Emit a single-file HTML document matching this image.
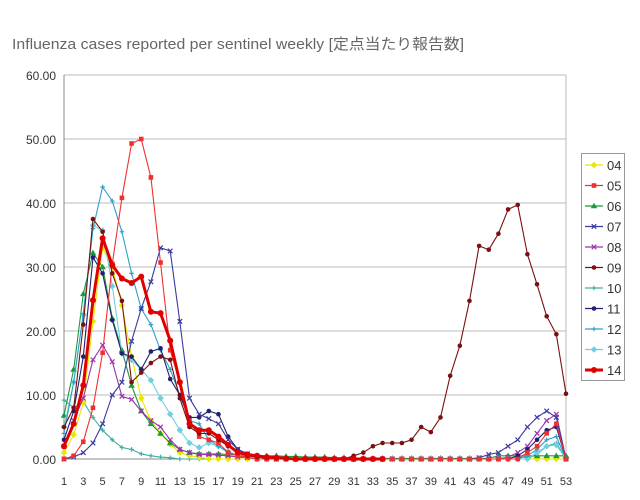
<!DOCTYPE html>
<html><head><meta charset="utf-8"><style>
html,body{margin:0;padding:0;background:#fff;}
svg{display:block;font-family:"Liberation Sans","Noto Sans CJK JP",sans-serif;}
</style></head><body>
<svg id="c" width="640" height="500" xmlns="http://www.w3.org/2000/svg">
<rect width="640" height="500" fill="#fff"/>
<text x="12" y="49" font-size="15" fill="#666" textLength="452" lengthAdjust="spacingAndGlyphs">Influenza cases reported per sentinel weekly [定点当たり報告数]</text>
<g id="grid"></g>
<g id="series"></g>
<g id="legend"></g>
</svg>
<script>
var NS="http://www.w3.org/2000/svg";
function el(t,a,p,txt){var e=document.createElementNS(NS,t);for(var k in a)e.setAttribute(k,a[k]);if(txt!=null)e.textContent=txt;p.appendChild(e);return e;}
var X0=64,X1=566,Y0=459,S=6.4;
function X(w){return X0+(w-1)*(X1-X0)/52;}
function Y(v){return Y0-v*S;}
var g=document.getElementById('grid');
for(var i=0;i<=6;i++){var y=Y(i*10);
 el('line',{x1:X0,x2:X1,y1:y,y2:y,stroke:i==0?'#888':'#bbb','stroke-width':1},g);
 el('text',{x:56,y:y+5,'font-size':12,'text-anchor':'end',fill:'#333'},g,(i*10)+'.00');}
el('line',{x1:X0,x2:X0,y1:Y(60),y2:Y0,stroke:'#888'},g);
el('line',{x1:X1,x2:X1,y1:Y(60),y2:Y0,stroke:'#bbb'},g);
for(var w=1;w<=53;w+=2) el('text',{x:X(w),y:485,'font-size':11,'text-anchor':'middle',fill:'#333'},g,w);
function fill(a){var r=a.slice();while(r.length<53)r.push(0);return r;}
function tail(a,start,vals){for(var i=0;i<vals.length;i++)a[start-1+i]=vals[i];return a;}
var D={
'04':fill([1,3.8,8.8,21.5,33,30,24,16,9.5,6,4,2.3,1,0.5,0.3]),
'05':tail(fill([0,0.5,2.7,8,16.6,30.5,40.8,49.3,50,44,30.7,17,12,6,3.5,3,2.5,1,0.5,0.3]),49,[1,2,4,5.5]),
'06':(function(){var a=fill([6.8,14,25.8,32.2,30,22,17,11.5,7.5,5.5,4,2.5,1.5,1,0.8,0.8,0.8,0.7,0.6,0.5,0.5,0.5,0.5,0.4,0.4,0.3,0.3,0.3,0.2,0.2]);for(var i=30;i<53;i++)a[i]=i>44?0.5:0.1;a[52]=0.5;return a;})(),
'07':tail(fill([0,0.3,1,2.5,5.5,10,12,18.4,23.5,27.7,33,32.5,21.5,9.5,7,6.3,5.5,3,1.5,0.8,0.4,0.2]),44,[0.2,0.7,1,2,3,5,6.5,7.5,6.5]),
'08':tail(fill([2,6,9.5,15.5,17.8,15.2,9.8,9.3,7.5,6,5,3,1.5,1,0.7,0.7,0.6,0.5,0.3,0.2]),47,[0.3,1,2,4,6,7]),
'09':[5,8,21,37.5,35.5,29,24.7,12,13.5,15,16,15.5,9.5,5,4,4,3,2,1,0.5,0.3,0.2,0.1,0.1,0,0,0,0,0,0,0.5,1,2,2.5,2.5,2.5,3,5,4.2,6.5,13,17.7,24.7,33.3,32.7,35.2,39,39.7,32,27.3,22.3,19.5,10.2],
'10':tail(fill([9.2,8,9,6.5,4.5,3,1.8,1.5,0.8,0.5,0.3,0.2]),50,[0.8,2,2.5]),
'11':tail(fill([3,7.5,16,31.5,29,21.7,16.5,16,14,16.8,17.3,12.5,10,6.5,6.5,7.5,7,3.5,1.5,0.8,0.4]),48,[0.5,1.5,3,4.5,5]),
'12':tail(fill([4,12,22.7,36,42.5,40.3,35.5,29,23.5,21,17,14,10,6,5.5,3,2,1,0.5,0.3]),49,[0.5,1.5,3,3.5]),
'13':tail(fill([5,12,22.5,36.5,35.7,27,16.5,15.5,14,12.3,9.5,7,4.5,2.5,1.8,2.5,2,1.2,0.6,0.3]),50,[1,2,2.2]),
'14':fill([2,5.5,11.5,24.8,34.5,30.3,28.2,27.5,28.5,23,22.8,18.5,12,5.5,4.5,4.5,3.5,2.2,1,0.7,0.5,0.3,0.2,0.1,0,0,0,0,0,0,0,0,0,0]).slice(0,34)
};
var C={'04':'#e8e800','05':'#f03030','06':'#1a9a3a','07':'#3a3aa0','08':'#a030b0','09':'#7a1010','10':'#40b0a0','11':'#202070','12':'#30a0c8','13':'#70d0e0','14':'#e00000'};
var M={'04':'d','05':'s','06':'t','07':'x','08':'x','09':'c','10':'p','11':'c','12':'p','13':'d','14':'c'};
function mark(p,x,y,t,c,r){
 if(t=='s')el('rect',{x:x-r,y:y-r,width:2*r,height:2*r,fill:c},p);
 else if(t=='t')el('polygon',{points:(x)+','+(y-r-1)+' '+(x-r-1)+','+(y+r)+' '+(x+r+1)+','+(y+r),fill:c},p);
 else if(t=='d')el('polygon',{points:x+','+(y-r-1)+' '+(x+r+1)+','+y+' '+x+','+(y+r+1)+' '+(x-r-1)+','+y,fill:c},p);
 else if(t=='x'){el('path',{d:'M'+(x-r)+' '+(y-r)+'L'+(x+r)+' '+(y+r)+'M'+(x-r)+' '+(y+r)+'L'+(x+r)+' '+(y-r),stroke:c,'stroke-width':1.2},p);}
 else if(t=='p'){el('path',{d:'M'+(x-r)+' '+y+'L'+(x+r)+' '+y+'M'+x+' '+(y-r)+'L'+x+' '+(y+r),stroke:c,'stroke-width':1.2},p);}
 else el('circle',{cx:x,cy:y,r:r,fill:c},p);
}
var sg=document.getElementById('series');
['10','04','06','08','13','12','11','07','05','09','14'].forEach(function(k){
 var d=D[k],pts=d.map(function(v,i){return X(i+1).toFixed(1)+','+Y(v).toFixed(1);}).join(' ');
 var th=k=='14';
 el('polyline',{points:pts,fill:'none',stroke:C[k],'stroke-width':th?3:1.1,'stroke-linejoin':'round'},sg);
 d.forEach(function(v,i){mark(sg,X(i+1),Y(v),M[k],C[k],th?3:2.3);});
});
var lg=document.getElementById('legend');
el('rect',{x:581.5,y:153.5,width:43,height:227,fill:'#fff',stroke:'#999'},lg);
var keys=['04','05','06','07','08','09','10','11','12','13','14'];
keys.forEach(function(k,i){var y=165+i*20.5;
 el('line',{x1:585,x2:603,y1:y,y2:y,stroke:C[k],'stroke-width':k=='14'?3:1.2},lg);
 mark(lg,594,y,M[k],C[k],k=='14'?3:2.3);
 el('text',{x:607,y:y+5,'font-size':13,fill:'#333'},lg,k);
});
</script>
</body></html>
